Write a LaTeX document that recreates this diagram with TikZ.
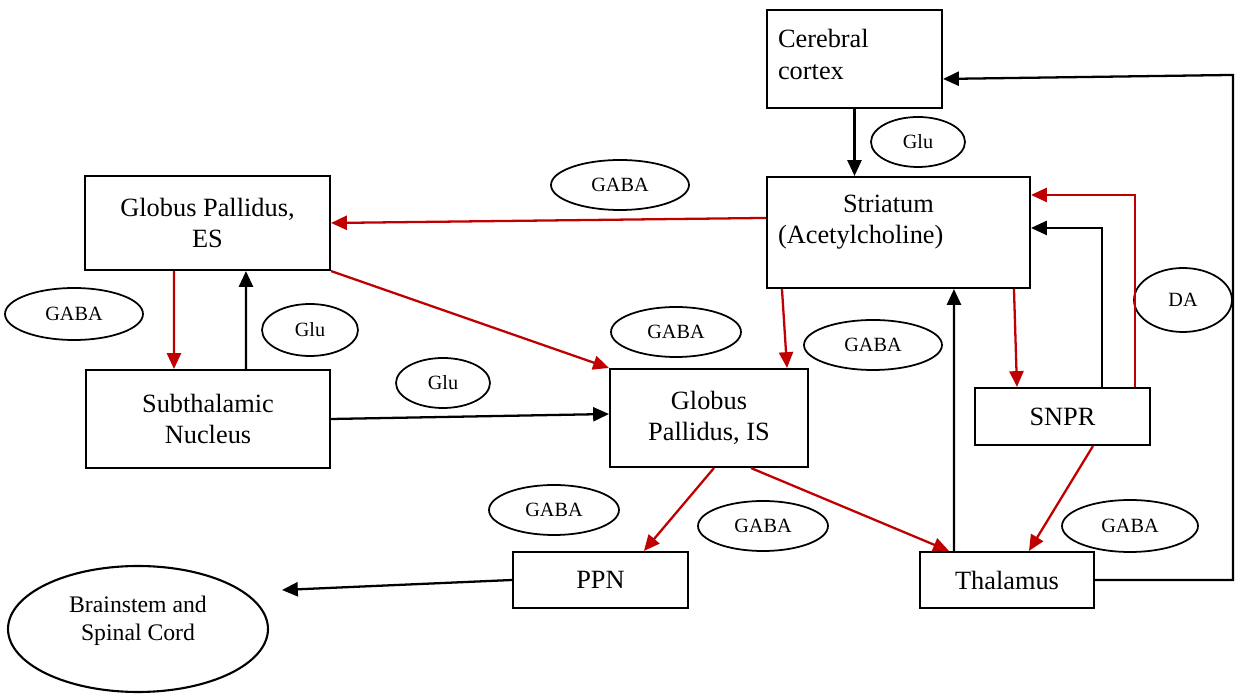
\documentclass[tikz,border=0pt]{standalone}
\usepackage{fontspec}
\setmainfont{Liberation Serif}
\usepackage{tikz}
\usetikzlibrary{arrows.meta,calc,shapes.geometric}
\definecolor{gabared}{RGB}{192,0,0}

\begin{document}
\begin{tikzpicture}[x=0.02cm,y=-0.02cm,
	box/.style={shape=rectangle,draw=black,line width=1.2pt,inner sep=0pt,font=\fontsize{15}{18}\selectfont},
	tag/.style={shape=ellipse,draw=black,line width=1pt,inner sep=0pt,minimum height=1cm,font=\fontsize{11.5}{14}\selectfont},
	blk/.style={draw=black,line width=1.3pt,-{Triangle[length=9pt,width=8pt]}},
	rd/.style={draw=gabared,line width=1.3pt,-{Triangle[length=9pt,width=8pt]}}]
	
	\useasboundingbox (0,0) rectangle (1235,695);
	
	\node[box,minimum width=3.5cm,minimum height=1.96cm,text width=3.06cm,align=left] (cortex) at (854.5,59) {Cerebral\\cortex\\[-0.45cm]\mbox{}};
	\node[box,minimum width=5.26cm,minimum height=2.22cm,text width=4.82cm,align=left] (striatum) at (898.5,232.5) {\hspace*{1.3cm}Striatum\\(Acetylcholine)\\[-0.1cm] \mbox{}};
	\node[box,minimum width=4.9cm,minimum height=1.88cm,align=center] (gpes) at (207.5,223) {Globus Pallidus,\\ES};
	\node[box,minimum width=4.88cm,minimum height=1.96cm,align=center] (stn) at (208,419) {Subthalamic\\Nucleus};
	\node[box,minimum width=3.96cm,minimum height=1.96cm,align=center] (gpis) at (709,418) {Globus\\Pallidus, IS};
	\node[box,minimum width=3.5cm,minimum height=1.14cm] (snpr) at (1062.5,416.5) {SNPR};
	\node[box,minimum width=3.48cm,minimum height=1.12cm] (thal) at (1007,580) {Thalamus};
	\node[box,minimum width=3.5cm,minimum height=1.12cm] (ppn) at (600.5,580) {PPN};
	\node[box,shape=ellipse,minimum width=5.2cm,minimum height=2.52cm,align=center,font=\fontsize{13.5}{16}\selectfont] (brain) at (138,629) {Brainstem and\\Spinal Cord\\[-0.15cm]\mbox{}};
	
	\node[tag,minimum width=1.88cm] (glu1) at (918,142) {Glu};
	\node[tag,minimum width=2.76cm] (gaba1) at (620,185) {GABA};
	\node[tag,minimum width=2.76cm,minimum height=1.04cm] (gaba2) at (74,314) {GABA};
	\node[tag,minimum width=1.92cm,minimum height=1.04cm] (glu2) at (310,330) {Glu};
	\node[tag,minimum width=1.88cm] (glu3) at (443,383) {Glu};
	\node[tag,minimum width=2.6cm] (gaba3) at (676,332) {GABA};
	\node[tag,minimum width=2.76cm] (gaba4) at (873,345) {GABA};
	\node[tag,minimum width=1.96cm,minimum height=1.28cm] (da) at (1183,300) {DA};
	\node[tag,minimum width=2.6cm] (gaba5) at (554,510) {GABA};
	\node[tag,minimum width=2.6cm] (gaba6) at (763,526) {GABA};
	\node[tag,minimum width=2.72cm,minimum height=1.04cm] (gaba7) at (1130,526) {GABA};
	
	\draw[blk] (cortex.south) -- (striatum.north -| cortex.south);
	\draw[rd] ($(striatum.north west)+(0,42)$) -- (gpes.east);
	\draw[rd] ($(gpes.south west)+(90,0)$) -- ($(stn.north west)+(89,0)$);
	\draw[blk] ($(stn.north west)+(161,0)$) -- ($(gpes.south west)+(162,0)$);
	\draw[rd] (gpes.south east) -- (gpis.north west);
	\draw[blk] (stn.east) -- ($(gpis.west)+(0,-4)$);
	\draw[rd] ($(striatum.south west)+(16,0)$) -- ($(gpis.north east)+(-22,0)$);
	\draw[rd] ($(striatum.south west)+(248,0)$) -- ($(snpr.north west)+(43,0)$);
	\draw[blk] ($(snpr.north west)+(128,0)$) |- ($(striatum.north east)+(0,52)$);
	\draw[rd] ($(snpr.north west)+(161,0)$) |- ($(striatum.north east)+(0,19)$);
	\draw[blk] ($(thal.north west)+(35,0)$) -- ($(striatum.south west)+(188,0)$);
	\draw[rd] ($(gpis.south west)+(105,0)$) -- ($(ppn.north west)+(132,0)$);
	\draw[rd] ($(gpis.south west)+(142,0)$) -- ($(thal.north west)+(30,0)$);
	\draw[rd] ($(snpr.south west)+(119,0)$) -- ($(thal.north west)+(110,0)$);
	\draw[blk] (ppn.west) -- ($(brain.center)+(144,-39)$);
	\draw[blk] (thal.east) -| ($(cortex.north east)+(290,66)$) -- ($(cortex.north east)+(0,70)$);
	\end{tikzpicture}
\end{document}
